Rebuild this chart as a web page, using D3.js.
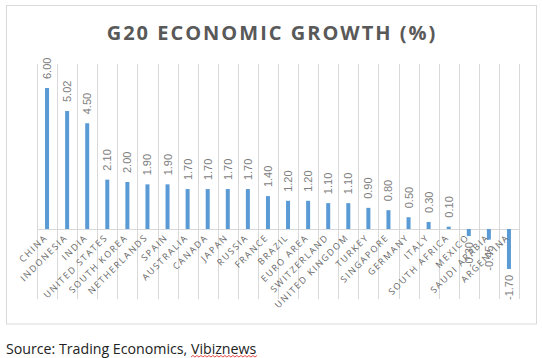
<!DOCTYPE html>
<html><head><meta charset="utf-8">
<script src="https://cdn.jsdelivr.net/npm/d3@7"></script>
<style>
body{margin:0;background:#fff;}
svg{display:block;}
</style></head>
<body>
<script>
const categories = ["CHINA","INDONESIA","INDIA","UNITED STATES","SOUTH KOREA","NETHERLANDS","SPAIN","AUSTRALIA","CANADA","JAPAN","RUSSIA","FRANCE","BRAZIL","EURO AREA","SWITZERLAND","UNITED KINGDOM","TURKEY","SINGAPORE","GERMANY","ITALY","SOUTH AFRICA","MEXICO","SAUDI ARABIA","ARGENTINA"];
const growth = [6.00,5.02,4.50,2.10,2.00,1.90,1.90,1.70,1.70,1.70,1.70,1.40,1.20,1.20,1.10,1.10,0.90,0.80,0.50,0.30,0.10,-0.30,-0.45,-1.70];
const title = "G20 ECONOMIC GROWTH (%)";
const source = "Source: Trading Economics, ";
const sourceLink = "Vibiznews";

const W = 542, H = 358;
const svg = d3.select("body").append("svg").attr("width", W).attr("height", H);

// chart frame
svg.append("rect").attr("x", 6.5).attr("y", 5.5).attr("width", 530).attr("height", 318.5)
  .attr("fill", "#fff").attr("stroke", "#d9d9d9").attr("stroke-width", 1);

svg.append("text").attr("x", 272).attr("y", 40).attr("text-anchor", "middle")
  .attr("font-family", "'Open Sans', sans-serif").attr("font-weight", "bold")
  .attr("font-size", 20).attr("letter-spacing", 2).attr("fill", "#595959").text(title);

const x = d3.scaleBand().domain(categories).range([37, 519]).paddingInner(0).paddingOuter(0);
const y = d3.scaleLinear().domain([0, 6]).range([229, 88]);

// vertical gridlines at category boundaries
const bounds = categories.map(c => x(c)).concat([x.range()[1]]);
svg.append("g").selectAll("line").data(bounds).join("line")
  .attr("x1", d => Math.round(d) + 0.5).attr("x2", d => Math.round(d) + 0.5)
  .attr("y1", 64).attr("y2", 299)
  .attr("stroke", "#d9d9d9").attr("stroke-width", 1);

// baseline axis
svg.append("line").attr("x1", 37).attr("x2", 519.5)
  .attr("y1", Math.round(y(0)) + 0.5).attr("y2", Math.round(y(0)) + 0.5)
  .attr("stroke", "#d9d9d9").attr("stroke-width", 1);

const bw = 4;
const data = categories.map((c, i) => ({c, v: growth[i]}));

svg.append("g").selectAll("rect").data(data).join("rect")
  .attr("x", d => x(d.c) + x.bandwidth() / 2 - bw / 2)
  .attr("width", bw)
  .attr("y", d => Math.min(y(d.v), y(0)))
  .attr("height", d => Math.abs(y(d.v) - y(0)))
  .attr("fill", "#5b9bd5");

// category labels
svg.append("g").selectAll("text").data(categories).join("text")
  .attr("transform", c => `translate(${x(c) + x.bandwidth() / 2 + 1},${y(0) + 9}) rotate(-45)`)
  .attr("text-anchor", "end")
  .attr("font-family", "'Open Sans', sans-serif").attr("font-size", 9)
  .attr("letter-spacing", 1.6).attr("fill", "#666666")
  .text(c => c);

// value labels
svg.append("g").selectAll("text").data(data).join("text")
  .attr("transform", d => `translate(${x(d.c) + x.bandwidth() / 2 + 4},${d.v >= 0 ? y(d.v) - 9 : y(d.v) + 6}) rotate(-90)`)
  .attr("text-anchor", d => d.v >= 0 ? "start" : "end")
  .attr("font-family", "'Liberation Sans', Arial, sans-serif").attr("font-size", 11)
  .attr("fill", "#808080")
  .text(d => d.v.toFixed(2));

// source line
const st = svg.append("text").attr("x", 6).attr("y", 354)
  .attr("font-family", "'Open Sans', sans-serif").attr("font-size", 14.2).attr("fill", "#222");
st.append("tspan").text(source);
st.append("tspan").text(sourceLink);
// spellcheck squiggle under the last word
const full = st.node().getComputedTextLength();
const tmp = svg.append("text").attr("font-family", "'Open Sans', sans-serif").attr("font-size", 14.2).text(sourceLink);
const lw = tmp.node().getComputedTextLength();
tmp.remove();
const x0 = 6 + full - lw, x1 = 6 + full;
let p = `M${x0},357`;
for (let xx = x0, k = 0; xx < x1; xx += 2, k++) p += `L${xx + 2},${k % 2 ? 357 : 355.5}`;
svg.append("path").attr("d", p).attr("fill", "none").attr("stroke", "#e02020").attr("stroke-width", 0.8);
</script>
</body></html>
